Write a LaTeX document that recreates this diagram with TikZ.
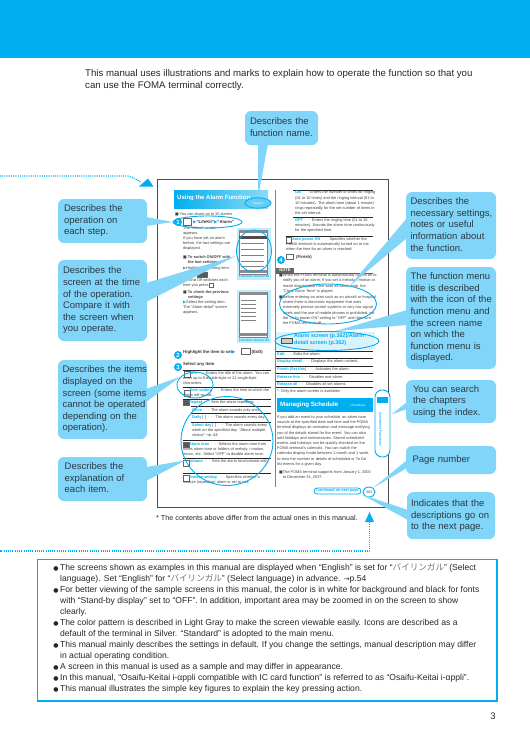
\documentclass[tikz,border=0pt]{standalone}
\usepackage{fontspec}
\setmainfont{Liberation Sans}
\newfontfamily\cjkfont{Noto Sans CJK JP}
\newfontfamily\glyphfont{DejaVu Sans}
\usetikzlibrary{calc,shapes.geometric}

\definecolor{pagecyan}{HTML}{00AEEF}
\definecolor{bubblefill}{HTML}{80D5F8}
\definecolor{inktext}{HTML}{2B3A45}

\newcommand{\nextmark}{{\glyphfont\textcolor{pagecyan}{▶}}}
\newcommand{\fillbox}{{\glyphfont■}}
\newcommand{\leaderdots}{\,\textcolor{black!50}{······}\,}
\newcommand{\keyword}[1]{\textcolor{pagecyan}{\bfseries #1}}
\newcommand{\selectjp}{“{\cjkfont\color{black!55}バイリンガル}”}
\newcommand{\bigdot}{\llap{{\glyphfont\fontsize{6}{6}\selectfont●}\kern1.5pt}}
\newcommand{\bubblelines}[2]{\hspace*{#1pt}\begin{tabular}{@{}l@{}}#2\end{tabular}}
\newcommand{\bubbletail}[3]{\fill[bubblefill] #1 -- #2 -- #3 -- cycle;}

\tikzset{
    bubble/.style={rectangle, rounded corners=6, fill=bubblefill, inner sep=0pt, align=left,
        text=inktext, font=\fontsize{9.5}{11.6}\selectfont},
    pagetext/.style={anchor=north west, inner sep=0pt, align=left, text=black!75,
        font=\fontsize{3.9}{5.2}\selectfont},
    headtext/.style={anchor=west, inner sep=0pt, text=white, font=\fontsize{6}{7}\selectfont\bfseries},
    tagtext/.style={anchor=center, inner sep=0pt, text=white, font=\fontsize{3}{4}\selectfont},
    steptext/.style={anchor=west, inner sep=0pt, text=black!80, font=\fontsize{4.3}{5.2}\selectfont\bfseries},
    capttext/.style={anchor=center, inner sep=0pt, text=pagecyan, font=\fontsize{3.2}{4}\selectfont\bfseries},
    stepmark/.style={circle, fill=pagecyan, inner sep=0pt, minimum size=8pt, text=white,
        font=\fontsize{6}{6}\selectfont\bfseries},
    ring/.style={ellipse, draw=pagecyan, line width=0.9pt, inner sep=0pt},
    keyicon/.style={draw=black!60, fill=white, line width=0.3pt},
    darkicon/.style={draw=black!60, fill=black!65, line width=0.3pt},
    itemrule/.style={black!85, line width=0.35pt},
    shotrule/.style={black!50, line width=0.7pt},
    dotline/.style={pagecyan, line width=1.2pt, dash pattern=on 1pt off 1.2pt}
}

\begin{document}
\begin{tikzpicture}[x=1pt, y=-1pt]
    \useasboundingbox (0,0) rectangle (530,753);

    % --- Page Band and Intro ---
    \fill[pagecyan] (0,0) rectangle (530,58);
    \node[anchor=north west, inner sep=0pt, align=left, text=black!85,
        font=\fontsize{9.65}{12}\selectfont] (intro) at (85,69)
        {This manual uses illustrations and marks to explain how to operate the function so that you\\
         can use the FOMA terminal correctly.};

    % --- Sample Page Frame ---
    \draw[black!70, line width=0.8pt] (157,179.5) rectangle (388,507);
    \draw[pagecyan, line width=0.9pt] (275,190) -- (275,487);

    % --- Left Column ---
    \shade[left color=pagecyan, right color=pagecyan!45] (174,190) rectangle (268,208);
    \node[headtext] (alarmhead) at (177,198) {Using the Alarm Function};
    \node[pagetext] (alarmcount) at (175,212.5) {\fillbox\,You can alarm up to 10 alarms.};
    \node[stepmark] (stepone) at (178,222) {1};
    \draw[keyicon] (183,218.5) rectangle (191,225);
    \node[steptext] (opline) at (193,222) {\nextmark“LifeKit”\nextmark“Alarm”};
    \node[pagetext] (alarmscreen) at (183,226)
        {The “Alarm” screen\\ appears.};
    \node[pagetext] (lastset) at (183,236.5)
        {If you have set an alarm\\ before, the last settings are\\ displayed.};
    \node[pagetext] (switchtitle) at (183,255.5)
        {\fillbox\ \textbf{To switch ON/OFF with}\\ \phantom{\fillbox\ }\textbf{the last settings}};
    \node[pagetext] (switchtext) at (183,266)
        {\nextmark Highlight the setting item.};
    \draw[darkicon] (197,272) rectangle (207,277);
    \node[pagetext] (switchpress) at (183,278)
        {On and Off switches each\\ time you press \phantom{[x]}.};
    \draw[keyicon] (209,283) rectangle (213,287);
    \node[pagetext] (checktitle) at (183,290.5)
        {\fillbox\ \textbf{To check the previous}\\ \phantom{\fillbox\ }\textbf{settings}};
    \node[pagetext] (checktext) at (183,300.5)
        {\nextmark Select the setting item.\\ The “Alarm detail” screen\\ appears.};

    % --- Sample Screens ---
    \fill[pagecyan!25] (237,228) rectangle (271,280);
    \fill[pagecyan!25] (237,290) rectangle (271,343);
    \draw[black!50, fill=white, line width=0.3pt] (239,230) rectangle (267,274);
    \draw[black!50, fill=white, line width=0.3pt] (239,292) rectangle (267,337);
    \fill[black!45] (239,230) rectangle (267,233);
    \fill[black!70] (239,236) rectangle (267,239);
    \fill[black!45] (239,270) rectangle (267,273);
    \fill[black!45] (239,292) rectangle (267,295);
    \fill[black!45] (239,333) rectangle (267,336);
    \foreach \shoty in {243,249,255,261,266}
        \draw[shotrule] (241,\shoty) -- (264,\shoty);
    \foreach \shoty in {300,304,308,312,316,320}
        \draw[shotrule] (241,\shoty) -- (256,\shoty);
    \node[capttext] (menuone) at (254,277) {Function menu p.82};
    \node[capttext] (menutwo) at (254,341) {Function menu p.82};

    % --- Steps and Items ---
    \node[stepmark] (steptwo) at (178,355) {2};
    \node[steptext] (stepedit) at (183,352.5) {Highlight the item to set\nextmark};
    \draw[keyicon] (241,348) rectangle (250,354);
    \node[steptext] (stepeditkey) at (251.5,352.5) {(Edit)};
    \node[stepmark] (stepthree) at (178,367) {3};
    \node[steptext] (stepselect) at (183,364) {Select any item};

    \foreach \ruley/\rulex in {370/183,387/183,399/183,406/191,413/191,422/191,440/183,458/183,473/183}
        \draw[itemrule] (\rulex,\ruley) -- (271,\ruley);
    \foreach \iconx/\icony in {184/371,184/390,183/460,183/475}
        \draw[keyicon] (\iconx,\icony) rectangle +(6,6);
    \foreach \iconx/\icony in {183/400,183/442}
        \draw[darkicon] (\iconx,\icony) rectangle +(6,5);

    \node[pagetext] (itemtitle) at (183,371.5)
        {\phantom{xxx}\keyword{Title}\leaderdots Enters the title of the alarm. You can\\
         enter up to 8 double-byte or 12 single-byte\\ characters.};
    \node[pagetext] (itemtime) at (183,388.5)
        {\phantom{xxx}\keyword{Time setting}\leaderdots Enters the time at which the\\ alarm will sound.};
    \node[pagetext] (itemrepeat) at (183,400.5)
        {\phantom{xxx}\keyword{Repeat}\leaderdots Sets the alarm repeating.};
    \node[pagetext] (itemonce) at (192,408.5)
        {\keyword{Once}\leaderdots The alarm sounds only once.};
    \node[pagetext] (itemdaily) at (192,415.5)
        {\keyword{Daily}\,[\phantom{x}]\leaderdots The alarm sounds every day.};
    \node[pagetext] (itemday) at (192,423.5)
        {\keyword{Select day}\,[\phantom{x}]\leaderdots The alarm sounds every\\
         week on the specified day. “About multiple\\ choice” \glyphfont→p.44};
    \node[pagetext] (itemtone) at (183,442.5)
        {\phantom{xxx}\keyword{Alarm tone}\leaderdots Selects the alarm tone from\\
         notes alarm tone or folders of melody, i-motion,\\
         music, etc. Select “OFF” to disable alarm tone.};
    \node[pagetext] (itemvolume) at (183,459.5)
        {\phantom{xxx}\keyword{Volume}\leaderdots Sets the alarm tone/volume with};
    \node[pagetext] (itemsnooze) at (183,475.5)
        {\phantom{xxx}\keyword{Snooze setting}\leaderdots Specifies whether a\\
         snooze (repeating) alarm is set to use.};

    % --- Right Column ---
    \draw[itemrule] (293,190) -- (373,190);
    \node[pagetext] (itemon) at (295,190.8)
        {\keyword{ON}\leaderdots Enters the number of times for ringing\\
         (01 to 10 times) and the ringing interval (01 to\\
         10 minutes). The alarm tone (about 1 minute)\\
         rings repeatedly for the set number of times in\\
         the set interval.};
    \draw[itemrule] (293,217) -- (373,217);
    \node[pagetext] (itemoff) at (295,218.5)
        {\keyword{OFF}\leaderdots Enters the ringing time (01 to 10\\
         minutes). Sounds the alarm tone continuously\\
         for the specified time.};
    \draw[itemrule] (286,236) -- (373,236);
    \draw[keyicon] (286,237) rectangle (291,243);
    \node[pagetext] (itemauto) at (286,237.5)
        {\phantom{xxx}\keyword{Auto power ON}\leaderdots Specifies whether the\\
         FOMA terminal is automatically turned on or not\\
         when the time for an alarm is reached.};
    \node[stepmark] (stepfour) at (281,260) {4};
    \draw[keyicon] (286,254) rectangle (293,259);
    \node[steptext] (stepfinish) at (296,257) {(Finish)};

    \fill[black!60] (276,268) rectangle (294,273);
    \node[anchor=center, inner sep=0pt, text=white, font=\fontsize{4}{5}\selectfont\bfseries] (notehead) at (285,270.5) {NOTE};
    \draw[black!60, line width=0.4pt] (276,273) -- (373,273);
    \node[pagetext] (noteone) at (279,273.6)
        {\fillbox When the FOMA terminal is automatically turned on to\\
         \phantom{\fillbox}notify you of an alarm, if you set a melody, i-motion or\\
         \phantom{\fillbox}movie downloaded from sites as alarm tone, the\\
         \phantom{\fillbox}“Clock Alarm Tone” is played.};
    \node[pagetext] (notetwo) at (279,295.5)
        {\fillbox Before entering an area such as an aircraft or hospital\\
         \phantom{\fillbox}where there is electronic equipment that uses\\
         \phantom{\fillbox}extremely precise control systems or very low signal\\
         \phantom{\fillbox}levels and the use of mobile phones is prohibited, set\\
         \phantom{\fillbox}the “Auto power ON” setting to “OFF” and then turn\\
         \phantom{\fillbox}the FOMA terminal off.};

    \fill[pagecyan!15] (276,332) rectangle (375,350);
    \draw[black!70, fill=black!20, line width=0.4pt] (281,338) rectangle (292,343);
    \node[anchor=north west, inner sep=0pt, align=left, text=pagecyan,
        font=\fontsize{5.4}{7}\selectfont\bfseries] (funcmenu) at (294,333)
        {Alarm screen (p.362)/Alarm\\ detail screen (p.362)};

    \foreach \ruley in {351,358,366,373,381,387}
        \draw[itemrule] (276,\ruley) -- (373,\ruley);
    \node[pagetext] (menuedit) at (277,352.5) {\keyword{Edit}\leaderdots Edits the alarm.};
    \node[pagetext] (menudetail) at (277,359.5) {\keyword{Display detail}\leaderdots Displays the alarm content.};
    \node[pagetext] (menufinish) at (277,367.5) {\keyword{Finish (Set this)}\leaderdots Activates the alarm.};
    \node[pagetext] (menuthis) at (277,375.5) {\keyword{Release this}\leaderdots Disables one alarm.};
    \node[pagetext] (menuall) at (277,382.5) {\keyword{Release all}\leaderdots Disables all set alarms.};
    \node[pagetext] (menunote) at (277,389.5) {*: Only the alarm screen is available.};

    \fill[pagecyan] (277,398) rectangle (373,412);
    \node[headtext, font=\fontsize{6.2}{7}\selectfont\bfseries] (schedhead) at (280,405) {Managing Schedule};
    \node[tagtext] (schedtag) at (358,405.5) {<Schedule>};
    \node[pagetext] (schedtext) at (277,415.5)
        {If you add an event to your schedule, an alarm tone\\
         sounds at the specified date and time and the FOMA\\
         terminal displays an animation and message notifying\\
         you of the details stored for the event. You can also\\
         add holidays and anniversaries. Stored scheduled\\
         events and holidays can be quickly checked on the\\
         FOMA terminal's calendar. You can switch the\\
         calendar display mode between 1-month and 1-week\\
         to view the number or details of scheduled or To Do\\
         list events for a given day.};
    \node[pagetext] (schednote) at (277,470.5)
        {\phantom{x}\fillbox The FOMA terminal supports from January 1, 2000\\
         \phantom{xxx}to December 31, 2037.};

    % --- Side Index and Page Marks ---
    \node[rectangle, rounded corners=7, draw=pagecyan, fill=white, line width=0.9pt,
        minimum width=15pt, minimum height=67pt, inner sep=0pt] (indexpill) at (382.5,423.5) {};
    \fill[pagecyan] (377,397) rectangle (388,403);
    \node[capttext, rotate=-90] (indextext) at (380.5,429) {Convenient Functions};
    \node[rectangle, rounded corners=3, draw=pagecyan, fill=white, line width=0.8pt,
        minimum width=47pt, minimum height=6pt, inner sep=0pt, text=pagecyan,
        font=\fontsize{3.7}{4}\selectfont\bfseries] (contpill) at (337.5,491) {Continued on next page};
    \node[anchor=north west, inner sep=0pt, text=black!70, font=\fontsize{3.7}{4}\selectfont] (pagenum) at (366,490.5) {362};

    % --- Footnote and Bottom Box ---
    \node[anchor=west, inner sep=0pt, text=black!85, font=\fontsize{7.2}{8}\selectfont] (footnote) at (156,518)
        {* The contents above differ from the actual ones in this manual.};
    \coordinate (dotstart) at (0,176);
    \coordinate (dotbend) at (128,176);
    \coordinate (dotend) at (141,182);
    \draw[dotline] (dotstart) -- (dotbend) .. controls (133,177) and (137,180) .. (dotend);
    \fill[pagecyan] (148,178.5) -- (139,186.5) -- (153.5,186.5) -- cycle;
    \coordinate (lowbend) at (369.5,551);
    \draw[dotline] (369.5,522) -- (lowbend) -- (0,551);
    \fill[pagecyan] (369.5,512) -- (365,522) -- (374,522) -- cycle;

    \draw[pagecyan, line width=1.5pt] (37.5,559.5) rectangle (497,701);
    \node[anchor=north west, inner sep=0pt, align=left, text=black!85,
        font=\fontsize{8.57}{11}\selectfont] (notes) at (60,563.5)
        {\bigdot The screens shown as examples in this manual are displayed when “English” is set for \selectjp\ (Select\\
         language). Set “English” for \selectjp\ (Select language) in advance. {\glyphfont\fontsize{7}{7}\selectfont→}p.54\\
         \bigdot For better viewing of the sample screens in this manual, the color is in white for background and black for fonts\\
         with “Stand-by display” set to “OFF”. In addition, important area may be zoomed in on the screen to show\\
         clearly.\\
         \bigdot The color pattern is described in Light Gray to make the screen viewable easily. Icons are described as a\\
         default of the terminal in Silver. “Standard” is adopted to the main menu.\\
         \bigdot This manual mainly describes the settings in default. If you change the settings, manual description may differ\\
         in actual operating condition.\\
         \bigdot A screen in this manual is used as a sample and may differ in appearance.\\
         \bigdot In this manual, “Osaifu-Keitai i-αppli compatible with IC card function” is referred to as “Osaifu-Keitai i-αppli”.\\
         \bigdot This manual illustrates the simple key figures to explain the key pressing action.};
    \node[anchor=center, inner sep=0pt, text=black!85, font=\fontsize{9.5}{11}\selectfont] (pagemark) at (493,716) {3};

    % --- Callout Rings ---
    \node[ring, minimum width=69pt, minimum height=12pt] (ringop) at (207.5,222) {};
    \node[ring, minimum width=35pt, minimum height=42pt] (ringshot) at (254,251) {};
    \node[ring, minimum width=36pt, minimum height=26pt] (ringitem) at (195,385) {};
    \node[ring, minimum width=92pt, minimum height=89pt] (ringexpl) at (227,441) {};
    \node[ring, minimum width=97pt, minimum height=40pt] (ringnote) at (328,304) {};
    \node[ring, minimum width=104pt, minimum height=19pt] (ringfunc) at (327,341) {};
    \node[ring, minimum width=12pt, minimum height=10pt] (ringpage) at (369,492) {};
    \node[ring, minimum width=26pt, minimum height=10.5pt, fill=pagecyan!60] (ringtitle) at (258,203) {};
    \node[tagtext] (titletag) at (258,203) {<Alarm>};

    % --- Bubble Tails ---
    \bubbletail{(ringtitle.north)}{(258,144)}{(268,144)}
    \bubbletail{(ringop.west)}{(146,217)}{(146,226)}
    \bubbletail{(ringshot.195)}{(146,283)}{(146,302)}
    \bubbletail{(ringitem.150)}{(146,389)}{(146,402)}
    \bubbletail{(ringexpl.205)}{(146,467)}{(146,481)}
    \bubbletail{(ringnote.40)}{(407,218)}{(407,238)}
    \bubbletail{(ringfunc.50)}{(407,310)}{(407,325)}
    \bubbletail{($(indexpill.east)+(1,-9)$)}{(407,402)}{(407,409)}
    \bubbletail{(ringpage.45)}{(407,460)}{(407,468)}
    \bubbletail{(contpill.south east)}{(408,510)}{(408,520)}

    % --- Bubbles ---
    \node[bubble, minimum width=73pt, minimum height=34pt, text width=73pt] (funcname) at (281.5,128)
        {\bubblelines{5}{Describes the\\ function name.}};
    \node[bubble, minimum width=89pt, minimum height=44pt, text width=89pt] (opstep) at (102.5,221)
        {\bubblelines{6}{Describes the\\ operation on\\ each step.}};
    \node[bubble, minimum width=89pt, minimum height=81pt, text width=89pt] (screentime) at (102.5,300.5)
        {\bubblelines{5}{Describes the\\ screen at the time\\ of the operation.\\ Compare it with\\ the screen when\\ you operate.}};
    \node[bubble, minimum width=89pt, minimum height=79pt, text width=89pt] (itemshown) at (102.5,399.5)
        {\bubblelines{4.5}{Describes the items\\ displayed on the\\ screen (some items\\ cannot be operated\\ depending on the\\ operation).}};
    \node[bubble, minimum width=89pt, minimum height=44pt, text width=89pt] (itemexpl) at (102.5,479)
        {\bubblelines{6.7}{Describes the\\ explanation of\\ each item.}};
    \node[bubble, minimum width=90pt, minimum height=67pt, text width=90pt] (settings) at (451,225.5)
        {\bubblelines{4.5}{Describes the\\ necessary settings,\\ notes or useful\\ information about\\ the function.}};
    \node[bubble, minimum width=90pt, minimum height=102pt, text width=90pt] (menutitle) at (451,318)
        {\bubblelines{4.5}{The function menu\\ title is described\\ with the icon of the\\ function menu and\\ the screen name\\ on which the\\ function menu is\\ displayed.}};
    \node[bubble, minimum width=90pt, minimum height=43pt, text width=90pt] (chapters) at (451,401.5)
        {\bubblelines{7}{You can search\\ the chapters\\ using the index.}};
    \node[bubble, minimum width=90pt, minimum height=28pt, text width=90pt] (pagehint) at (451,460)
        {\bubblelines{6.5}{Page number}};
    \node[bubble, minimum width=88pt, minimum height=47pt, text width=88pt] (nexthint) at (451,515.7)
        {\bubblelines{4}{Indicates that the\\ descriptions go on\\ to the next page.}};

\end{tikzpicture}
\end{document}
